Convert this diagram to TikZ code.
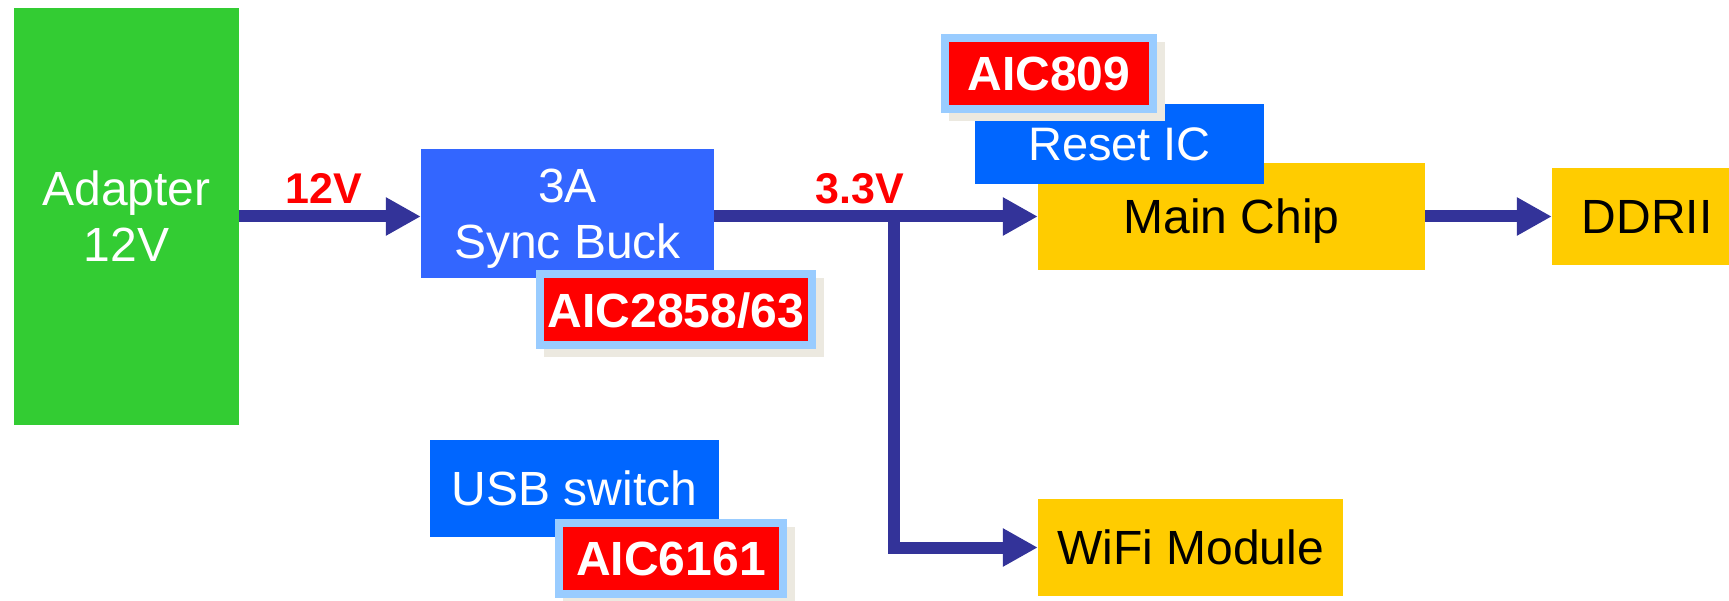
\documentclass[tikz,border=0pt]{standalone}
\usepackage{fontspec}
\setmainfont{Liberation Sans}
\usetikzlibrary{arrows.meta,shadows}

\definecolor{adaptergreen}{HTML}{33CC33}
\definecolor{buckblue}{HTML}{3366FF}
\definecolor{icblue}{HTML}{0066FF}
\definecolor{chipyellow}{HTML}{FFCC00}
\definecolor{wirenavy}{HTML}{333399}
\definecolor{tagframe}{HTML}{99CCFF}
\definecolor{tagshadow}{HTML}{ECE9E0}
\newcommand{\blockfont}{\fontsize{48}{56}\selectfont}

\begin{document}
\begin{tikzpicture}[x=1pt,y=-1pt]
    \tikzstyle{block} = [rectangle, inner sep=0pt, align=center, text depth=0pt, font=\blockfont]
    \tikzstyle{source} = [block, fill=adaptergreen, text=white, minimum width=225pt, minimum height=417pt]
    \tikzstyle{regulator} = [block, fill=buckblue, text=white, minimum width=293pt, minimum height=129pt]
    \tikzstyle{helper} = [block, fill=icblue, text=white, minimum width=289pt]
    \tikzstyle{load} = [block, fill=chipyellow, text=black]
    \tikzstyle{partno} = [rectangle, inner sep=0pt, fill=red, draw=tagframe, line width=8pt, text=white, text depth=0pt, font=\blockfont\bfseries, minimum height=71pt, general shadow={fill=tagshadow, draw=tagshadow, line width=8pt, shadow xshift=8pt, shadow yshift=-8pt}]
    \tikzstyle{volt} = [text=red, inner sep=0pt, anchor=base, font=\fontsize{43}{50}\selectfont\bfseries]
    \tikzstyle{arrow} = [wirenavy, line width=12pt, -{Triangle[length=35pt,width=36pt]}]

    \useasboundingbox (0,0) rectangle (1729,601);

    \node (adapter) [source] at (126.5,216.5) {Adapter\\12V};
    \node (buck) [regulator] at (567.5,213.5) {3A\\Sync Buck};
    \node (chip) [load, minimum width=387pt, minimum height=107pt] at (1231.5,216.5) {Main Chip};
    \node (ddr) [load, minimum width=190pt, minimum height=97pt] at (1647,216.5) {DDRII};
    \node (wifi) [load, minimum width=305pt, minimum height=97pt] at (1190.5,547.5) {WiFi Module};
    \node (usb) [helper, minimum height=97pt] at (574.5,488.5) {USB switch};
    \node (reset) [helper, minimum height=80pt, font=\fontsize{47}{54}\selectfont] at (1119.5,144) {Reset IC};

    \draw [arrow] (adapter.east) -- (adapter.east -| buck.west);
    \draw [arrow] (buck.east |- chip.west) -- (chip.west);
    \draw [arrow] (chip.east) -- (ddr.west);

    % 3.3V branch to WiFi
    \coordinate (tap) at (894,216.5);
    \draw [arrow] (tap) |- (wifi.west);

    \node (v12) [volt] at (324,204) {12V};
    \node (v33) [volt] at (859.5,204) {3.3V};

    \node (buckpn) [partno, minimum width=272pt] at (676,310) {AIC2858/63};
    \node (resetpn) [partno, minimum width=208pt] at (1049,73.5) {AIC809};
    \node (usbpn) [partno, minimum width=224pt] at (671,558.5) {AIC6161};
\end{tikzpicture}
\end{document}
